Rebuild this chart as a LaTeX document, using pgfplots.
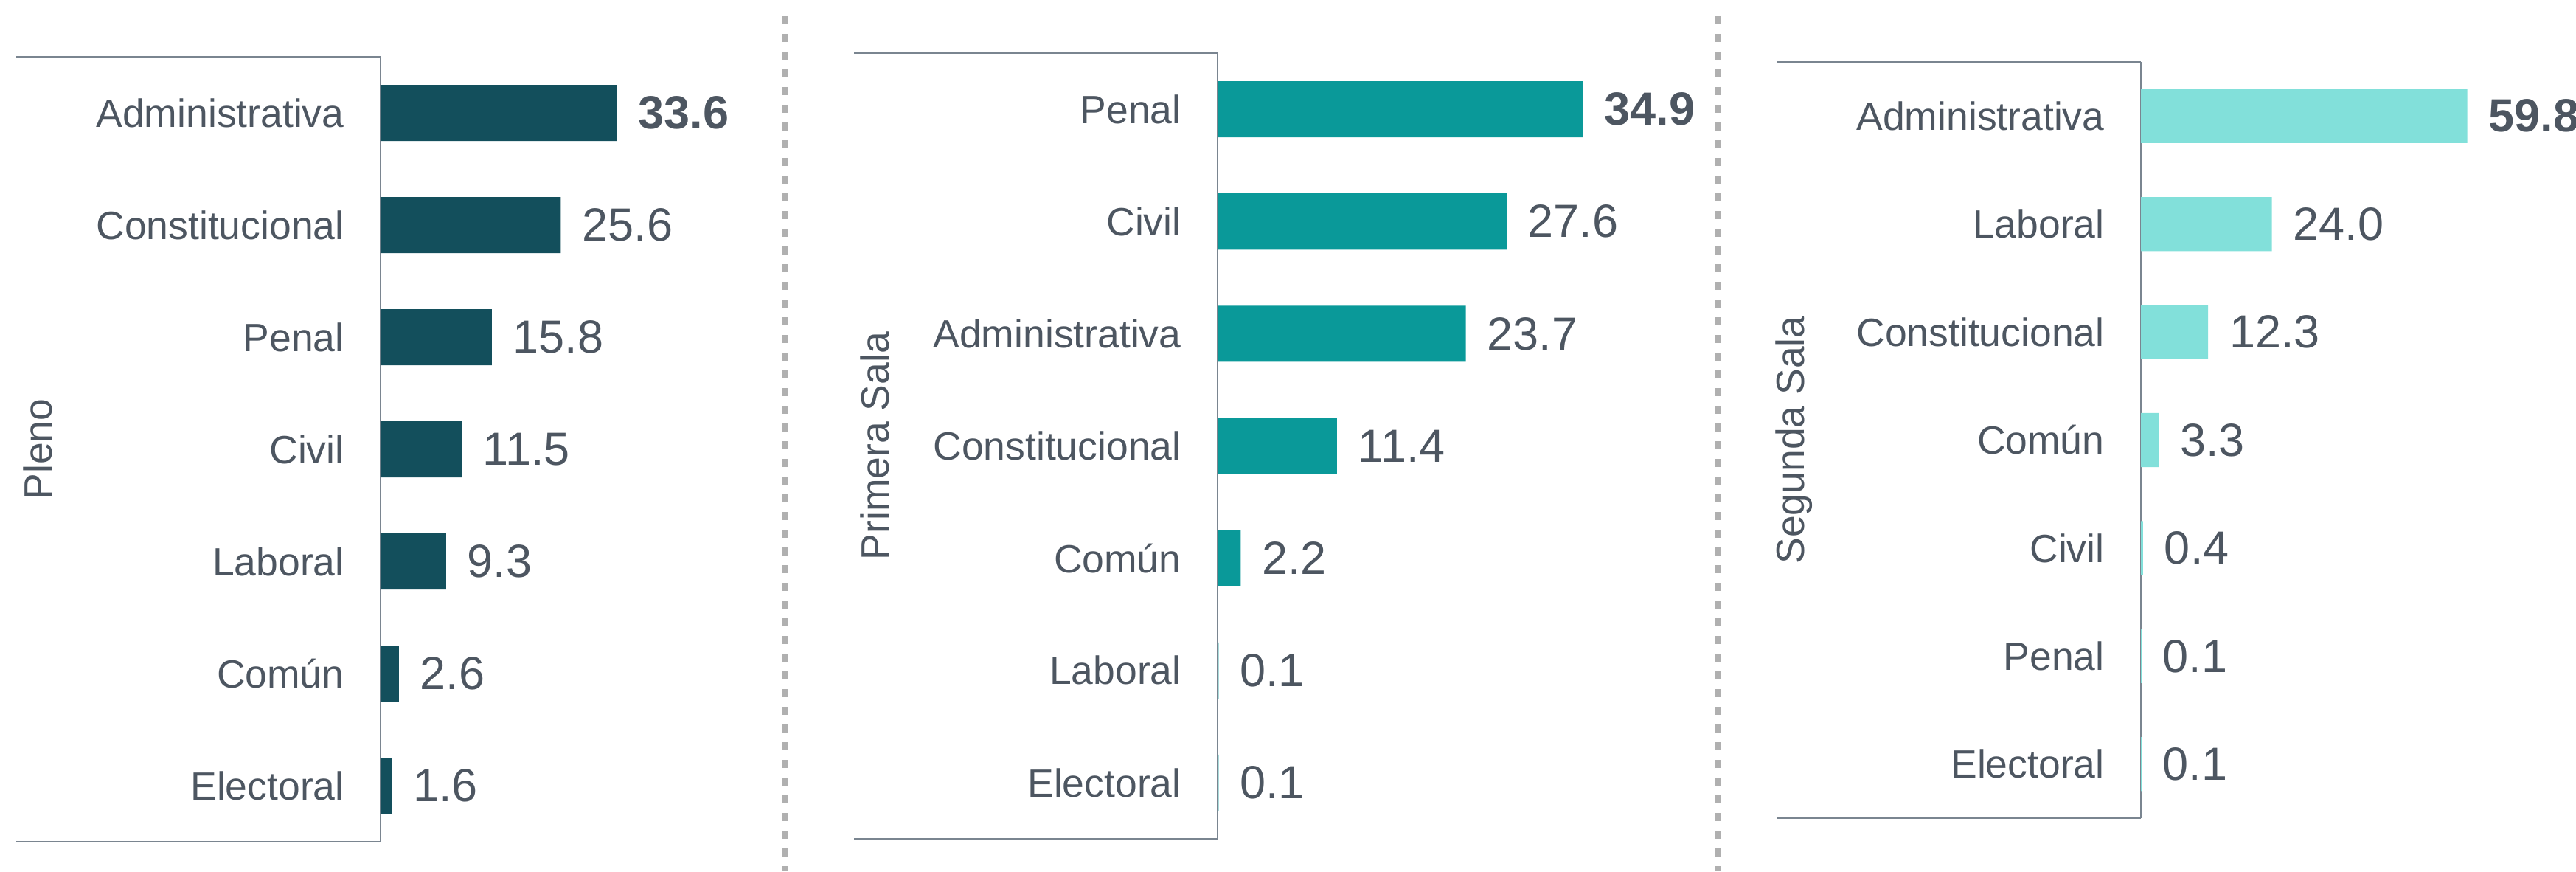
\documentclass[border=0pt]{standalone}
\usepackage{fontspec}
\setmainfont{Liberation Sans}
\usepackage{pgfplots}
\pgfplotsset{compat=1.18}

\definecolor{txt}{HTML}{4D5661}
\definecolor{axcol}{HTML}{7A8590}
\definecolor{sepcol}{HTML}{B0B0B0}
\definecolor{pleno}{HTML}{134F5C}
\definecolor{primera}{HTML}{0A9999}
\definecolor{segunda}{HTML}{82E0DA}

\pgfplotsset{
  panel/.style={
    scale only axis,
    xbar, bar width=0.5,
    xmin=0, ymin=-0.5, ymax=6.5, y dir=reverse,
    hide x axis,
    axis y line=left,
    y axis line style={-, draw=axcol, line width=0.4pt},
    ytick={0,...,6},
    major tick length=0pt,
    tick style={draw=none},
    yticklabel style={font=\fontsize{10.7}{12}\selectfont, text=txt,
                      anchor=east, inner xsep=0pt, xshift=-9.7pt},
    every axis y label/.style={at={([xshift=-88.8pt]axis description cs:0,0.5)},
                      rotate=90, anchor=south, inner sep=0pt,
                      font=\fontsize{10.7}{12}\selectfont, text=txt},
    point meta=explicit symbolic,
    nodes near coords,
    nodes near coords style={anchor=west, inner xsep=5.6pt,
                      font=\fontsize{12.6}{14}\selectfont, text=txt},
    clip=false,
  },
}

\begin{document}
\begin{tikzpicture}[x=1pt,y=1pt]
\path[use as bounding box] (0,0) rectangle (698.6,236.2);

% Pleno
\begin{axis}[panel, at={(103.2pt,8pt)}, anchor=south west,
  width=85.95pt, height=212.8pt, xmax=45,
  ylabel={Pleno},
  yticklabels={Administrativa,Constitucional,Penal,Civil,Laboral,Común,Electoral}]
\addplot[fill=pleno, draw=none] coordinates {
  (33.6,0) [\textbf{33.6}]
  (25.6,1) [25.6]
  (15.8,2) [15.8]
  (11.5,3) [11.5]
  (9.3,4)  [9.3]
  (2.6,5)  [2.6]
  (1.6,6)  [1.6]
};
\draw[axcol, line width=0.4pt] (rel axis cs:0,0) -- ++(-98.8pt,0pt);
\draw[axcol, line width=0.4pt] (rel axis cs:0,1) -- ++(-98.8pt,0pt);
\end{axis}

% Primera Sala
\begin{axis}[panel, at={(330.2pt,8.8pt)}, anchor=south west,
  width=113.6pt, height=213pt, xmax=40,
  ylabel={Primera Sala},
  yticklabels={Penal,Civil,Administrativa,Constitucional,Común,Laboral,Electoral}]
\addplot[fill=primera, draw=none] coordinates {
  (34.9,0) [\textbf{34.9}]
  (27.6,1) [27.6]
  (23.7,2) [23.7]
  (11.4,3) [11.4]
  (2.2,4)  [2.2]
  (0.1,5)  [0.1]
  (0.1,6)  [0.1]
};
\draw[axcol, line width=0.4pt] (rel axis cs:0,0) -- ++(-98.6pt,0pt);
\draw[axcol, line width=0.4pt] (rel axis cs:0,1) -- ++(-98.6pt,0pt);
\end{axis}

% Segunda Sala
\begin{axis}[panel, at={(580.6pt,14.4pt)}, anchor=south west,
  width=96.2pt, height=205pt, xmax=65,
  ylabel={Segunda Sala},
  yticklabels={Administrativa,Laboral,Constitucional,Común,Civil,Penal,Electoral}]
\addplot[fill=segunda, draw=none] coordinates {
  (59.8,0) [\textbf{59.8}]
  (24.0,1) [24.0]
  (12.3,2) [12.3]
  (3.3,3)  [3.3]
  (0.4,4)  [0.4]
  (0.1,5)  [0.1]
  (0.1,6)  [0.1]
};
\draw[axcol, line width=0.4pt] (rel axis cs:0,0) -- ++(-98.8pt,0pt);
\draw[axcol, line width=0.4pt] (rel axis cs:0,1) -- ++(-98.8pt,0pt);
\end{axis}

% dotted separators
\draw[sepcol, line width=1.6pt, dash pattern=on 2.2pt off 2.6pt] (212.8,231.8) -- (212.8,0);
\draw[sepcol, line width=1.6pt, dash pattern=on 2.2pt off 2.6pt] (465.8,231.8) -- (465.8,0);
\end{tikzpicture}
\end{document}
